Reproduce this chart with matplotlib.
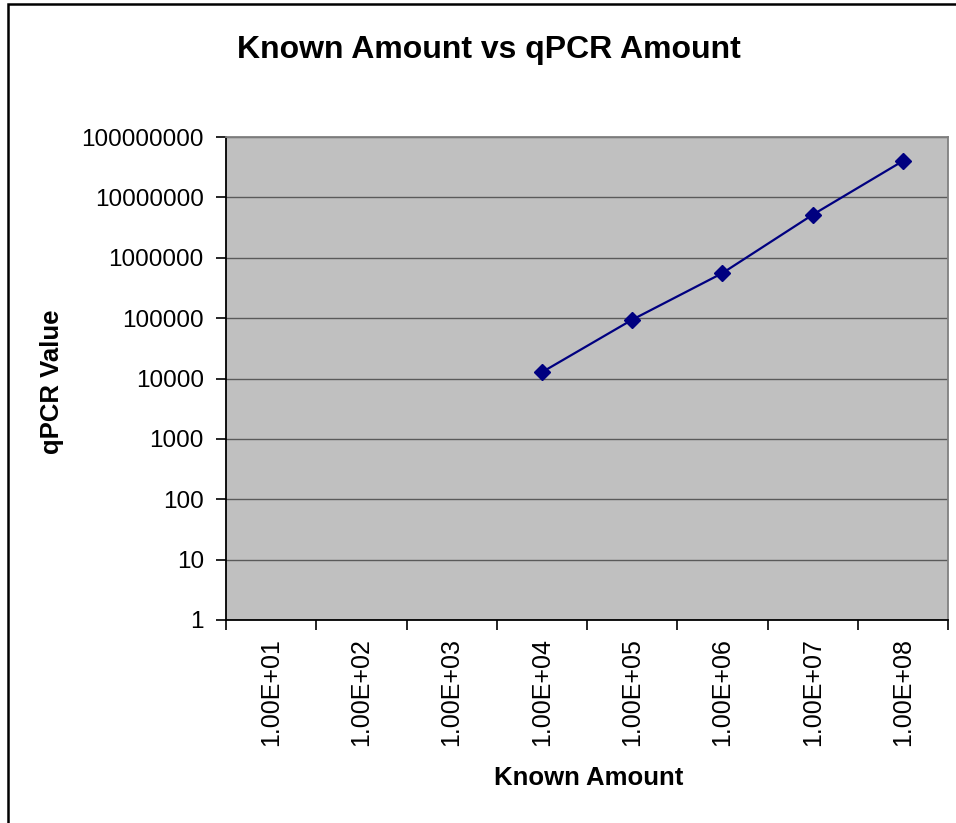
import numpy as np
import matplotlib.pyplot as plt
from matplotlib.patches import Rectangle
from matplotlib.ticker import FixedLocator, FuncFormatter

plt.rcParams['font.family'] = ['Liberation Sans', 'DejaVu Sans']

categories = ['1.00E+01', '1.00E+02', '1.00E+03', '1.00E+04',
              '1.00E+05', '1.00E+06', '1.00E+07', '1.00E+08']
known_labels = ['1.00E+04', '1.00E+05', '1.00E+06', '1.00E+07', '1.00E+08']
qpcr_values = [12700, 94000, 556000, 5150000, 40000000]
y_ticks = [1, 10, 100, 1000, 10000, 100000, 1000000, 10000000, 100000000]

fig = plt.figure(figsize=(9.56, 8.23), dpi=100)
# outer chart frame (cropped on right/bottom like the reference)
fig.patches.append(Rectangle((8 / 956, -0.05), 1.2, 1 - 4 / 823 + 0.05,
                             transform=fig.transFigure, fill=False,
                             edgecolor='black', linewidth=1.8))

ax = fig.add_axes([226 / 956, 1 - 620 / 823, (948 - 226) / 956, (620 - 137) / 823])
ax.set_facecolor('#C0C0C0')

x = [categories.index(c) for c in known_labels]
ax.plot(x, qpcr_values, color='#000080', lw=1.6, marker='D', markersize=8,
        markerfacecolor='#000080', markeredgecolor='#000080')

ax.set_yscale('log')
ax.set_ylim(1, 1e8)
ax.yaxis.set_major_locator(FixedLocator(y_ticks))
ax.yaxis.set_minor_locator(FixedLocator([]))
ax.yaxis.set_major_formatter(FuncFormatter(lambda v, p: '%d' % round(v)))
ax.grid(axis='y', color='#5a5a5a', lw=1.0)
ax.set_axisbelow(True)

ax.set_xlim(-0.5, len(categories) - 0.5)
ax.set_xticks(np.arange(len(categories)))
ax.set_xticklabels(categories, rotation=90)
ax.set_xticks(np.arange(len(categories) + 1) - 0.5, minor=True)
ax.tick_params(axis='x', which='major', length=0, pad=13, labelsize=18)
ax.tick_params(axis='x', which='minor', length=7, width=1.2, direction='out')
ax.tick_params(axis='y', length=7, width=1.2, pad=9, labelsize=17.5)

for s in ['left', 'bottom']:
    ax.spines[s].set_color('black')
    ax.spines[s].set_linewidth(1.3)
for s in ['top', 'right']:
    ax.spines[s].set_color('#808080')
    ax.spines[s].set_linewidth(1.3)

fig.text(489 / 956, 1 - 50 / 823, 'Known Amount vs qPCR Amount', ha='center',
         va='center', fontsize=23, fontweight='bold')
fig.text(589 / 956, 1 - 778 / 823, 'Known Amount', ha='center', va='center',
         fontsize=18.5, fontweight='bold')
fig.text(52 / 956, 1 - 382 / 823, 'qPCR Value', ha='center', va='center',
         rotation=90, fontsize=18.5, fontweight='bold')

fig.savefig('out.png', dpi=100)
